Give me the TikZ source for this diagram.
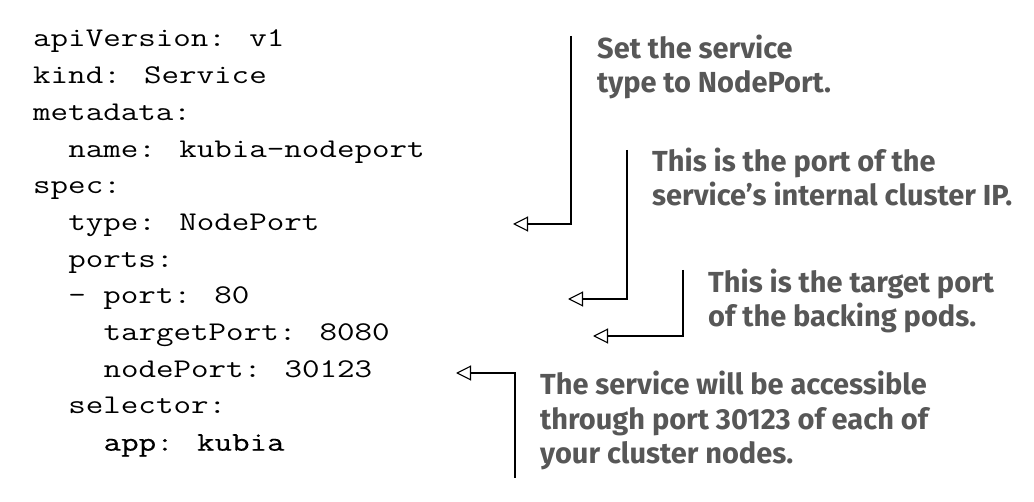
\documentclass[tikz,border=0pt]{standalone}
\usepackage{fontspec}
\newfontfamily\codefont[FakeStretch=1.26]{Latin Modern Mono}
\newfontfamily\codeboldfont[FakeStretch=1.26,FakeBold=0.4]{Latin Modern Mono}
\newfontfamily\annfont{Fira Sans}
\usetikzlibrary{arrows.meta}
\definecolor{anngray}{HTML}{575757}
\tikzset{
  code/.style={anchor=base west, inner sep=0pt, font=\codefont\fontsize{27}{36.7}\selectfont},
  codebold/.style={code, font=\codeboldfont\fontsize{27}{36.7}\selectfont},
  ann/.style={anchor=base west, inner sep=0pt, align=left, text=anngray,
    font=\annfont\bfseries\fontsize{29}{34.5}\selectfont},
  callout/.style={draw=black, line width=1.1pt,
    -{Triangle[open, length=15pt, width=15pt, line width=1.1pt]}},
}
\begin{document}
\begin{tikzpicture}[x=1pt, y=-1pt]
\useasboundingbox (0,0) rectangle (1034,502);
% code lines
\node[code] (l0)  at (33,47)     {apiVersion: v1};
\node[code] (l1)  at (33,83.7)   {kind: Service};
\node[code] (l2)  at (33,120.4)  {metadata:};
\node[code] (l3)  at (68.2,157.1) {name: kubia-nodeport};
\node[code] (l4)  at (33,193.8)  {spec:};
\node[code] (l5)  at (68.2,230.5) {type: NodePort};
\node[code] (l6)  at (68.2,267.2) {ports:};
\node[code] (l7)  at (68.2,303.9) {- port: 80};
\node[code] (l8)  at (103.4,340.6) {targetPort: 8080};
\node[code] (l9)  at (103.4,377.3) {nodePort: 30123};
\node[code] (l10) at (68.2,414)  {selector:};
\node[codebold] (l11) at (103.4,450.7) {app: kubia};
% annotations (anchored at the baseline of their last line)
\node[ann] (a1) at (597,93)  {Set the service\\type to NodePort.};
\node[ann] (a2) at (652,206) {This is the port of the\\service’s internal cluster IP.};
\node[ann] (a3) at (708,327) {This is the target port\\of the backing pods.};
\node[ann] (a4) at (540,464) {The service will be accessible\\through port 30123 of each of\\your cluster nodes.};
% connector end points
\coordinate (t1) at (571,36);  \coordinate (p1) at (513,224);
\coordinate (t2) at (627,150); \coordinate (p2) at (568,299);
\coordinate (t3) at (683,270); \coordinate (p3) at (593,336);
\coordinate (t4) at (515,478); \coordinate (p4) at (456,373);
\draw[callout] (t1) |- (p1);
\draw[callout] (t2) |- (p2);
\draw[callout] (t3) |- (p3);
\draw[callout] (t4) |- (p4);
\end{tikzpicture}
\end{document}
